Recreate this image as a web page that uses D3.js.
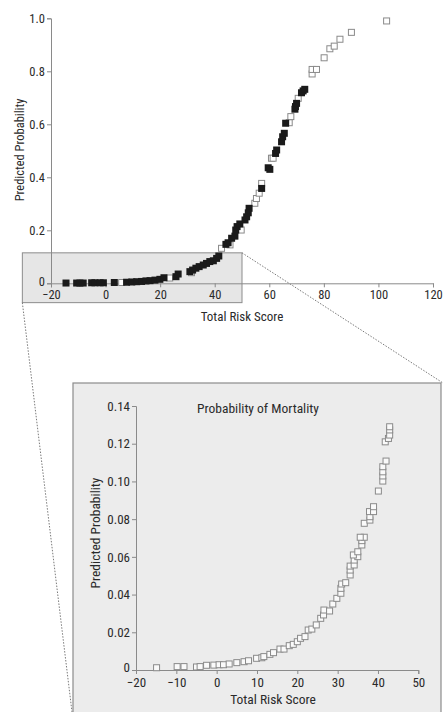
<!DOCTYPE html>
<html>
<head>
<meta charset="utf-8">
<script src="https://cdn.jsdelivr.net/npm/d3@7"></script>
<style>
  html, body { margin: 0; padding: 0; background: #fff; }
  svg { display: block; }
  text { font-family: "Liberation Sans Narrow", "Arial Narrow", "Roboto Condensed", "Liberation Sans", sans-serif; fill: #2a2a2a; }
</style>
</head>
<body>
<svg id="chart" width="443" height="712"></svg>
<script>
// Full range: patients in the filled series
const filledScore = [-14.5, -10.6, -9.4, -8.2, -5.1, -3.9, -2.0, -0.8, 3.2, 7.7, 9.6, 11.4, 13.2, 14.8, 16.3, 18.1, 19.9, 21.4, 25.8, 26.6,
  30.9, 31.9, 33.1, 34.3, 35.8, 37.0, 38.2, 39.5, 40.7, 41.5, 44.1, 44.9, 46.2, 47.4, 47.7, 48.2, 49.2, 51.1, 51.7, 52.3,
  52.6, 57.2, 59.6, 60.2, 62.3, 62.7, 64.5, 64.9, 65.5, 66.0, 69.4, 69.6, 70.0, 71.8, 72.4, 73.0];
const filledProb = [0.001, 0.001, 0.001, 0.001, 0.002, 0.002, 0.002, 0.002, 0.003, 0.004, 0.005, 0.006, 0.007, 0.009, 0.010, 0.012, 0.015, 0.021, 0.025, 0.035,
  0.044, 0.050, 0.057, 0.063, 0.069, 0.075, 0.082, 0.085, 0.094, 0.103, 0.147, 0.153, 0.170, 0.178, 0.201, 0.214, 0.224, 0.239, 0.251, 0.266,
  0.283, 0.358, 0.436, 0.430, 0.490, 0.503, 0.534, 0.553, 0.566, 0.604, 0.657, 0.667, 0.679, 0.719, 0.726, 0.732];

// Full range: patients in the open series
const openScore = [5.9, 23.5, 31.5, 42.5, 45.6, 49.7, 54.7, 55.3, 56.3, 57.2, 60.8, 61.4, 67.3, 67.9, 70.6, 75.7, 75.7, 77.3, 80.1, 82.2,
  83.8, 85.9, 90.1, 103.0];
const openProb = [0.003, 0.020, 0.040, 0.132, 0.145, 0.201, 0.302, 0.320, 0.340, 0.377, 0.472, 0.472, 0.606, 0.629, 0.698, 0.790, 0.807, 0.807, 0.851, 0.885,
  0.895, 0.921, 0.947, 0.990];

// Enlarged low-score region
const insetScore = [-14.9, -9.8, -8.1, -5.0, -4.1, -2.5, -0.7, 0.6, 1.7, 3.1, 5.0, 6.8, 7.9, 9.9, 11.2, 11.7, 13.2, 14.1, 15.7, 16.7,
  18.0, 19.0, 20.0, 20.8, 21.9, 22.7, 23.6, 24.7, 25.8, 26.5, 26.6, 28.0, 28.8, 29.8, 30.8, 30.8, 31.0, 32.0, 33.1, 33.1,
  33.1, 34.1, 34.1, 35.0, 33.9, 35.0, 36.0, 36.0, 36.6, 35.6, 36.6, 38.0, 38.0, 37.9, 38.9, 38.9, 40.1, 41.2, 41.2, 41.2,
  41.2, 42.0, 41.8, 42.6, 42.9, 42.9, 42.9];
const insetProb = [0.0012, 0.0018, 0.0018, 0.0016, 0.0018, 0.0025, 0.0026, 0.0028, 0.0028, 0.0032, 0.0039, 0.0044, 0.0049, 0.0062, 0.0065, 0.0071, 0.0083, 0.0092, 0.0111, 0.0111,
  0.0129, 0.0136, 0.0150, 0.0168, 0.0177, 0.0212, 0.0217, 0.0239, 0.0274, 0.0292, 0.0318, 0.0313, 0.0350, 0.0380, 0.0407, 0.0433, 0.0456, 0.0463, 0.0504, 0.0530,
  0.0551, 0.0557, 0.0583, 0.0601, 0.0610, 0.0627, 0.0663, 0.0686, 0.0704, 0.0704, 0.0778, 0.0795, 0.0813, 0.0840, 0.0840, 0.0866, 0.0949, 0.1002, 0.1029, 0.1051,
  0.1078, 0.1108, 0.1210, 0.1228, 0.1246, 0.1273, 0.1290];

const mainXTicks = [-20, 0, 20, 40, 60, 80, 100, 120];
const mainYTicks = [0, 0.2, 0.4, 0.6, 0.8, 1.0];
const insetXTicks = [-20, -10, 0, 10, 20, 30, 40, 50];
const insetYTicks = [0, 0.02, 0.04, 0.06, 0.08, 0.10, 0.12, 0.14];

// Region of the main plot that the inset enlarges
const zoomScore = [-30.5, 50];
const zoomProb = [-0.073, 0.115];

const svg = d3.select("#chart");
const fmtMinus = v => (v < 0 ? "\u2212" + Math.abs(v) : String(v));

const zip = (xs, ys) => xs.map((x, i) => ({ x, y: ys[i] }));

function styleAxis(g, size) {
  g.select(".domain").attr("stroke", "#8a8a8a").attr("stroke-width", 1);
  g.selectAll(".tick line").attr("stroke", "#8a8a8a");
  g.selectAll(".tick text").attr("font-size", size).attr("fill", "#2a2a2a");
}

// ---------- main chart ----------
const mx = d3.scaleLinear().domain([-20, 120]).range([51, 433]);
const my = d3.scaleLinear().domain([0, 1]).range([283.3, 18.3]);

// shaded zoom region
const zx0 = mx(zoomScore[0]), zx1 = mx(zoomScore[1]);
const zyTop = my(zoomProb[1]), zyBot = my(zoomProb[0]);
svg.append("rect")
  .attr("x", zx0).attr("y", zyTop)
  .attr("width", zx1 - zx0).attr("height", zyBot - zyTop)
  .attr("fill", "#e6e6e6").attr("stroke", "#8c8c8c").attr("stroke-width", 1);

// inset panel geometry
const panel = { x: 73, y: 383, w: 368, h: 340 };

// dotted connector lines
svg.append("line")
  .attr("x1", zx0).attr("y1", zyBot).attr("x2", panel.x - 1).attr("y2", 712)
  .attr("stroke", "#7a7a7a").attr("stroke-width", 1).attr("stroke-dasharray", "1.5,1.5");
svg.append("line")
  .attr("x1", zx1).attr("y1", zyTop).attr("x2", 443).attr("y2", panel.y)
  .attr("stroke", "#7a7a7a").attr("stroke-width", 1).attr("stroke-dasharray", "1.5,1.5");

const gmx = svg.append("g").attr("transform", `translate(0,${my(0)})`)
  .call(d3.axisBottom(mx).tickValues(mainXTicks).tickFormat(fmtMinus).tickSize(4).tickPadding(3));
styleAxis(gmx, 12.5);
const gmy = svg.append("g").attr("transform", `translate(${mx(-20)},0)`)
  .call(d3.axisLeft(my).tickValues(mainYTicks).tickFormat(d => d === 0 ? "0" : d3.format(".1f")(d)).tickSize(4).tickPadding(2));
styleAxis(gmy, 12.5);
gmy.selectAll(".tick text").filter(d => d === 0).attr("dy", "0.15em");

const sMain = 6;
svg.append("g").selectAll("rect").data(zip(openScore, openProb)).join("rect")
  .attr("x", d => mx(d.x) - sMain / 2).attr("y", d => my(d.y) - sMain / 2)
  .attr("width", sMain).attr("height", sMain)
  .attr("fill", "#fff").attr("stroke", "#8a8a8a").attr("stroke-width", 1);
svg.append("g").selectAll("rect").data(zip(filledScore, filledProb)).join("rect")
  .attr("x", d => mx(d.x) - 3.5).attr("y", d => my(d.y) - 3.5)
  .attr("width", 7).attr("height", 7)
  .attr("fill", "#1a1a1a");

svg.append("text").attr("x", 242).attr("y", 321).attr("text-anchor", "middle")
  .attr("font-size", 13).text("Total Risk Score");
svg.append("text").attr("transform", "translate(23.5,150) rotate(-90)").attr("text-anchor", "middle")
  .attr("font-size", 12.5).text("Predicted Probability");

// ---------- inset ----------
svg.append("rect")
  .attr("x", panel.x).attr("y", panel.y).attr("width", panel.w).attr("height", panel.h)
  .attr("fill", "#ececec").attr("stroke", "#8c8c8c").attr("stroke-width", 1.2);

const ix = d3.scaleLinear().domain([-20, 50]).range([136, 418.3]);
const iy = d3.scaleLinear().domain([0, 0.14]).range([670, 406]);

const gix = svg.append("g").attr("transform", `translate(0,${iy(0)})`)
  .call(d3.axisBottom(ix).tickValues(insetXTicks).tickFormat(fmtMinus).tickSize(4).tickPadding(4));
styleAxis(gix, 13);
const giy = svg.append("g").attr("transform", `translate(${ix(-20)},0)`)
  .call(d3.axisLeft(iy).tickValues(insetYTicks).tickFormat(d => d === 0 ? "0" : d3.format(".2f")(d)).tickSize(4).tickPadding(2));
styleAxis(giy, 13);
giy.selectAll(".tick text").filter(d => d === 0).attr("dy", "0.1em");

const sIn = 6;
svg.append("g").selectAll("rect").data(zip(insetScore, insetProb)).join("rect")
  .attr("x", d => ix(d.x) - sIn / 2).attr("y", d => iy(d.y) - sIn / 2)
  .attr("width", sIn).attr("height", sIn)
  .attr("fill", "#fafafa").attr("stroke", "#8a8a8a").attr("stroke-width", 1);

svg.append("text").attr("x", 258).attr("y", 413).attr("text-anchor", "middle")
  .attr("font-size", 13.5).text("Probability of Mortality");
svg.append("text").attr("x", 273).attr("y", 704).attr("text-anchor", "middle")
  .attr("font-size", 13.5).text("Total Risk Score");
svg.append("text").attr("transform", "translate(99.5,533) rotate(-90)").attr("text-anchor", "middle")
  .attr("font-size", 13.5).text("Predicted Probability");
</script>
</body>
</html>
